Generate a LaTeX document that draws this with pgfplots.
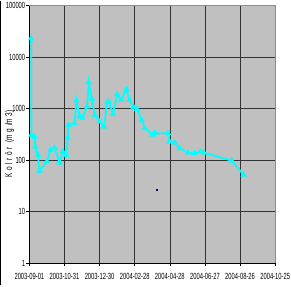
\documentclass[border=0pt]{standalone}
\usepackage{pgfplots}
\pgfplotsset{compat=1.18}
\usepackage{fontspec}
\setmainfont[FakeStretch=0.65]{Liberation Sans}
\definecolor{plotgray}{RGB}{192,192,192}
\definecolor{cyanline}{RGB}{0,255,255}
\definecolor{navydot}{RGB}{0,0,128}
\newcommand{\s}{\hspace{2.6bp}}
\begin{document}
\begin{tikzpicture}
\begin{axis}[
  name=ax,
  scale only axis,
  width=246.8bp, height=258.7bp,
  xmin=0, xmax=420,
  ymode=log, ymin=1, ymax=100000,
  axis background/.style={fill=plotgray},
  xtick={0,60,120,180,240,300,360,420},
  xticklabels={2003-09-01,2003-10-31,2003-12-30,2004-02-28,2004-04-28,2004-06-27,2004-08-26,2004-10-25},
  ytick={1,10,100,1000,10000,100000},
  yticklabels={1,10,100,1000,10000,100000},
  minor ytick={},
  log basis y=10,
  tick align=outside,
  major tick length=3bp,
  tick style={black, line width=0.6bp},
  grid=major,
  major grid style={black!80, line width=0.6bp},
  axis line style={black!50, line width=0.6bp},
  axis x line*=bottom, axis y line*=left,
  ticklabel style={font=\fontsize{9}{10}\selectfont, inner sep=1bp},
  xticklabel style={yshift=-6bp},
  ylabel={K\s o\s l\s r\s ö\s r\s\s (m\s g\s /m\s 3)},
  every axis y label/.style={at={(axis description cs:0,0.463)}, xshift=-20bp, rotate=90, anchor=center, font=\fontsize{10}{11}\selectfont},
  clip=false,
]
\draw[black!45, line width=0.6bp] (axis cs:0,100000) -- (axis cs:420,100000) -- (axis cs:420,1);
\draw[black, line width=0.8bp] (axis cs:0,1) -- (axis cs:0,100000);
\draw[black, line width=0.8bp] (axis cs:0,1) -- (axis cs:420,1);
\addplot[cyanline, line width=1.8bp, mark=triangle*, mark size=3.2bp, mark options={fill=cyanline, draw=cyanline, line width=0.4bp}] coordinates {
(3,23000)
(3.5,310)
(9,282)
(10,183)
(14.5,126)
(17.4,62)
(30,94)
(36,158)
(43,172)
(51.5,89)
(57,147)
(63,126)
(65.6,270)
(66.8,480)
(77,520)
(80.5,1450)
(86,700)
(90.7,660)
(98.5,1090)
(101.5,3250)
(106.6,1530)
(111.7,755)
(120,560)
(127.5,447)
(133,1330)
(136,1350)
(143,790)
(150,1900)
(157,1470)
(165.7,2380)
(171,1470)
(178,1070)
(184,980)
(192,600)
(197,420)
(210,309)
(214,334)
(236.7,334)
(239.5,230)
(248,220)
(256.6,170)
(270.8,140)
(282,136)
(292.5,147)
(298,140)
(345.8,98)
(366,52)
};
\addplot[only marks, mark=square*, mark size=0.5bp, navydot] coordinates {(217,27)};
\end{axis}
\path (ax.south west) ++(-29.5bp,-22.3bp) coordinate (bl);
\path (ax.north east) ++(14.7bp,5bp) coordinate (tr);
\path (bl) rectangle (tr);
\draw[black, line width=1.2bp] ([xshift=0.6bp]bl) -- ([xshift=0.6bp]bl |- tr);
\end{tikzpicture}
\end{document}
